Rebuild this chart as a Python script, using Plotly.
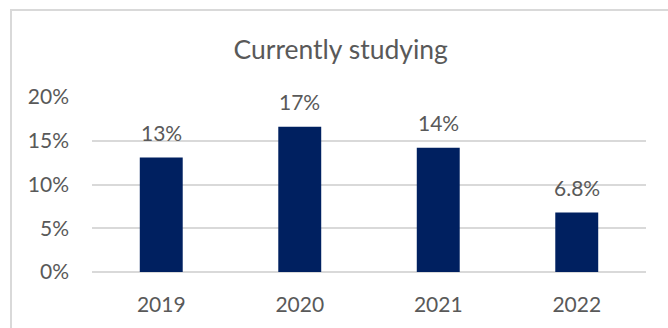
import plotly.graph_objects as go

# Share of respondents currently studying, by survey year
years = ["2019", "2020", "2021", "2022"]
share = [0.131, 0.166, 0.142, 0.068]
y_ticks = [0, 0.05, 0.10, 0.15, 0.20]
y_tick_labels = ["0%", "5%", "10%", "15%", "20%"]

TEXT = "#595959"
GRID = "#d9d9d9"
BAR = "#002060"
FONT = "Lato"

fig = go.Figure(
    go.Bar(
        x=years,
        y=share,
        marker=dict(color=BAR, line=dict(width=0)),
        width=0.31,
        hoverinfo="skip",
    )
)

# Value labels above each bar, formatted to two significant digits
# (category axes place annotations by category index)
for i, v in enumerate(share):
    fig.add_annotation(
        x=i, y=v, text=f"{v * 100:.2g}%", showarrow=False,
        yanchor="middle", yshift=25,
        font=dict(family=FONT, size=21, color=TEXT),
    )

# Chart frame: only its top and left edges fall inside the canvas
fig.add_shape(
    type="rect", xref="paper", yref="paper",
    x0=-0.1462, x1=1.3, y0=-0.6, y1=1.497,
    line=dict(color=GRID, width=2), fillcolor="rgba(0,0,0,0)",
    layer="below",
)

fig.update_layout(
    width=668, height=328,
    margin=dict(l=92, r=22, t=97, b=54),
    paper_bgcolor="white", plot_bgcolor="white",
    showlegend=False,
    title=dict(
        text="Currently studying",
        x=0.51, xref="container", xanchor="center",
        y=1 - 50 / 328, yref="container", yanchor="middle",
        font=dict(family=FONT, size=26.5, color=TEXT),
    ),
    font=dict(family=FONT, color=TEXT),
)

fig.update_xaxes(
    type="category", range=[-0.5, len(years) - 0.5],
    showgrid=False, showline=False, zeroline=False,
    ticks="", ticklabelstandoff=18,
    tickfont=dict(family=FONT, size=21, color=TEXT),
)
fig.update_yaxes(
    range=[0, 0.20], tickvals=y_ticks, ticktext=y_tick_labels,
    showgrid=True, gridcolor=GRID, gridwidth=1.5,
    zeroline=True, zerolinecolor=GRID, zerolinewidth=1.5,
    showline=False, ticks="", ticklabelstandoff=22,
    tickfont=dict(family=FONT, size=21, color=TEXT),
)

fig.write_html("out.html")
